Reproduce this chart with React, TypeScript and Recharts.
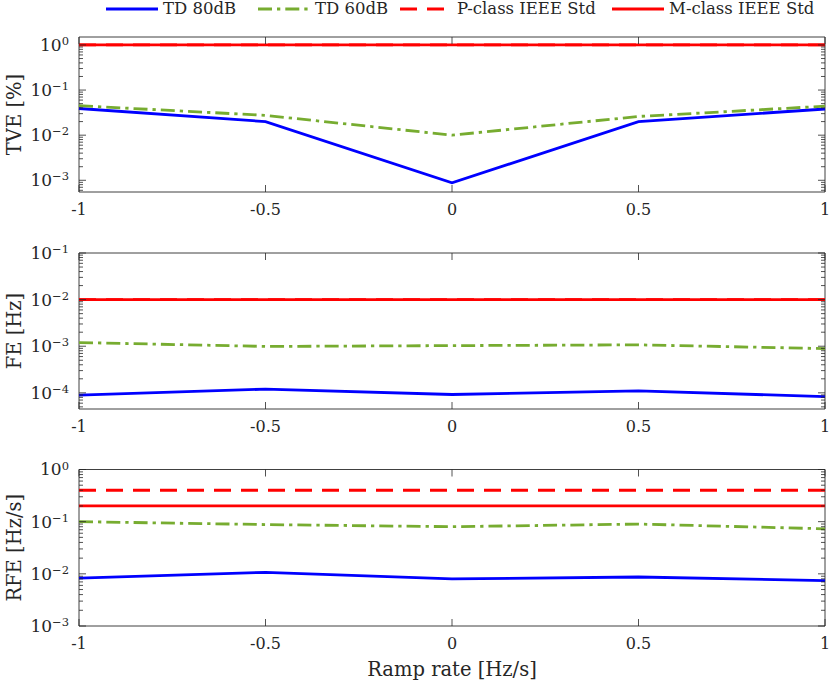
import React from 'react';
import { LineChart, Line, XAxis, YAxis, ReferenceArea } from 'recharts';

// Ramp rate sweep (x axis) shared by the three panels
const rampRate = [-1, -0.5, 0, 0.5, 1];
const xTicks = [-1, -0.5, 0, 0.5, 1];

// TVE [%]
const tveTd80 = [0.039, 0.02, 0.00088, 0.02, 0.038];
const tveTd60 = [0.045, 0.0275, 0.01, 0.026, 0.044];
const tvePClass = [1, 1, 1, 1, 1];
const tveMClass = [1, 1, 1, 1, 1];
const tveDecades = [1e-3, 1e-2, 1e-1, 1];

// FE [Hz]
const feTd80 = [8.9e-5, 1.2e-4, 9.2e-5, 1.1e-4, 8.3e-5];
const feTd60 = [1.2e-3, 0.99e-3, 1.03e-3, 1.07e-3, 0.89e-3];
const fePClass = [0.01, 0.01, 0.01, 0.01, 0.01];
const feMClass = [0.01, 0.01, 0.01, 0.01, 0.01];
const feDecades = [1e-4, 1e-3, 1e-2, 1e-1];

// RFE [Hz/s]
const rfeTd80 = [0.0083, 0.0107, 0.008, 0.0087, 0.0074];
const rfeTd60 = [0.1, 0.088, 0.08, 0.09, 0.073];
const rfePClass = [0.4, 0.4, 0.4, 0.4, 0.4];
const rfeMClass = [0.2, 0.2, 0.2, 0.2, 0.2];
const rfeDecades = [1e-3, 1e-2, 1e-1, 1];

const FONT = 'DejaVu Serif';
const INK = '#262626';
const BLUE = '#0000ff';
const GREEN = '#77ac30';
const RED = '#ff0000';
const DASH_DOT = '14 5 3.3 5';
const DASHED = '17 10';
const LW = 2.8;
const PLOT_RIGHT = 825;

const rows = (a: number[], b: number[], p: number[], m: number[]) =>
  rampRate.map((x, i) => ({ x, td80: a[i], td60: b[i], pcls: p[i], mcls: m[i] }));

// decades plus the 2..9 minor ticks that fall inside the domain
const logTicks = (decades: number[], lo: number, hi: number) => {
  const out: number[] = [];
  [decades[0] / 10, ...decades].forEach((d) => {
    for (let k = 1; k < 10; k++) {
      const v = d * k;
      if (v >= lo * 0.9999 && v <= hi * 1.0001) out.push(v);
    }
  });
  return out;
};

const isDecade = (v: number) => Math.abs(Math.log10(v) - Math.round(Math.log10(v))) < 1e-6;
const expText = (v: number) => {
  const e = Math.round(Math.log10(v));
  return e < 0 ? `\u2212${-e}` : `${e}`;
};

type PanelProps = {
  top: number;
  height: number;
  marginTop: number;
  xAxisHeight: number;
  data: ReturnType<typeof rows>;
  domain: [number, number];
  decades: number[];
  ylabel: string;
  xlabel?: string;
};

function Panel({ top, height, marginTop, xAxisHeight, data, domain, decades, ylabel, xlabel }: PanelProps) {
  const yTicks = logTicks(decades, domain[0], domain[1]);
  const plotBottom = height - xAxisHeight;

  const xTick = (props: any) => {
    const { x, y, payload } = props;
    const axisY = y - 12;
    return (
      <g>
        <line x1={x} x2={x} y1={axisY} y2={axisY - 7} stroke={INK} strokeWidth={0.8} />
        <line x1={x} x2={x} y1={marginTop} y2={marginTop + 7} stroke={INK} strokeWidth={0.8} />
        <text x={x} y={y} dy="0.71em" textAnchor="middle" fontFamily={FONT} fontSize={16} fill={INK}>
          {payload.value}
        </text>
      </g>
    );
  };

  const yTick = (props: any) => {
    const { x, y, payload } = props;
    const left = x + 10;
    const major = isDecade(payload.value);
    const len = major ? 7 : 4;
    return (
      <g>
        <line x1={left} x2={left + len} y1={y} y2={y} stroke={INK} strokeWidth={0.8} />
        <line x1={PLOT_RIGHT - len} x2={PLOT_RIGHT} y1={y} y2={y} stroke={INK} strokeWidth={0.8} />
        {major && (
          <text x={x} y={y} dy="0.35em" textAnchor="end" fontFamily={FONT} fontSize={17} fill={INK}>
            10
            <tspan dy="-0.5em" fontSize={11.5}>
              {expText(payload.value)}
            </tspan>
          </text>
        )}
      </g>
    );
  };

  return (
    <div style={{ position: 'absolute', left: 0, top, width: 830, height }}>
      <LineChart width={830} height={height} data={data} margin={{ top: marginTop, right: 830 - PLOT_RIGHT, left: 0, bottom: 0 }}>
        <ReferenceArea x1={-1} x2={1} y1={domain[0]} y2={domain[1]} fill="none" stroke="#404040" strokeWidth={1} />
        <XAxis
          dataKey="x"
          type="number"
          domain={[-1, 1]}
          ticks={xTicks}
          height={xAxisHeight}
          axisLine={false}
          tickLine={false}
          tickSize={0}
          tickMargin={12}
          tick={xTick}
          interval={0}
          label={
            xlabel
              ? {
                  content: (p: any) => (
                    <text
                      x={p.viewBox.x + p.viewBox.width / 2}
                      y={plotBottom + 43}
                      dy="0.35em"
                      textAnchor="middle"
                      fontFamily={FONT}
                      fontSize={19.5}
                      fill={INK}
                    >
                      {xlabel}
                    </text>
                  ),
                }
              : undefined
          }
        />
        <YAxis
          type="number"
          scale="log"
          domain={domain}
          allowDataOverflow
          ticks={yTicks}
          interval={0}
          width={79}
          axisLine={false}
          tickLine={false}
          tickSize={0}
          tickMargin={10}
          tick={yTick}
          label={{
            content: (p: any) => {
              const cy = p.viewBox.y + p.viewBox.height / 2;
              return (
                <text
                  x={14}
                  y={cy}
                  transform={`rotate(-90 14 ${cy})`}
                  textAnchor="middle"
                  dominantBaseline="central"
                  fontFamily={FONT}
                  fontSize={19.5}
                  fill={INK}
                >
                  {ylabel}
                </text>
              );
            },
          }}
        />
        <Line dataKey="td80" stroke={BLUE} strokeWidth={LW} dot={false} isAnimationActive={false} />
        <Line dataKey="td60" stroke={GREEN} strokeWidth={LW} strokeDasharray={DASH_DOT} dot={false} isAnimationActive={false} />
        <Line dataKey="pcls" stroke={RED} strokeWidth={LW} strokeDasharray={DASHED} dot={false} isAnimationActive={false} />
        <Line dataKey="mcls" stroke={RED} strokeWidth={LW} dot={false} isAnimationActive={false} />
      </LineChart>
    </div>
  );
}

const legendItems = [
  { name: 'TD 80dB', color: BLUE, dash: undefined, left: 106 },
  { name: 'TD 60dB', color: GREEN, dash: DASH_DOT, left: 258 },
  { name: 'P-class IEEE Std', color: RED, dash: DASHED, left: 400 },
  { name: 'M-class IEEE Std', color: RED, dash: undefined, left: 612 },
];

function Legend() {
  return (
    <>
      {legendItems.map((it) => (
        <div
          key={it.name}
          style={{ position: 'absolute', top: 0, left: it.left, height: 18, display: 'flex', alignItems: 'center', whiteSpace: 'nowrap' }}
        >
          <svg width={52} height={18}>
            <line x1={0} x2={52} y1={9} y2={9} stroke={it.color} strokeWidth={LW} strokeDasharray={it.dash} />
          </svg>
          <span style={{ marginLeft: 5, fontFamily: FONT, fontSize: 16.5, color: INK, lineHeight: '18px' }}>
            {it.name}
          </span>
        </div>
      ))}
    </>
  );
}

export default function App() {
  return (
    <div style={{ position: 'absolute', left: 0, top: 0, width: 830, height: 686, background: '#fff', overflow: 'hidden' }}>
      <Legend />
      <Panel
        top={0}
        height={220}
        marginTop={37}
        xAxisHeight={28}
        data={rows(tveTd80, tveTd60, tvePClass, tveMClass)}
        domain={[5.5e-4, 1.5]}
        decades={tveDecades}
        ylabel="TVE [%]"
      />
      <Panel
        top={220}
        height={217}
        marginTop={33}
        xAxisHeight={28}
        data={rows(feTd80, feTd60, fePClass, feMClass)}
        domain={[4.5e-5, 0.1]}
        decades={feDecades}
        ylabel="FE [Hz]"
      />
      <Panel
        top={440}
        height={246}
        marginTop={29.5}
        xAxisHeight={60}
        data={rows(rfeTd80, rfeTd60, rfePClass, rfeMClass)}
        domain={[1e-3, 1]}
        decades={rfeDecades}
        ylabel="RFE [Hz/s]"
        xlabel="Ramp rate [Hz/s]"
      />
    </div>
  );
}
